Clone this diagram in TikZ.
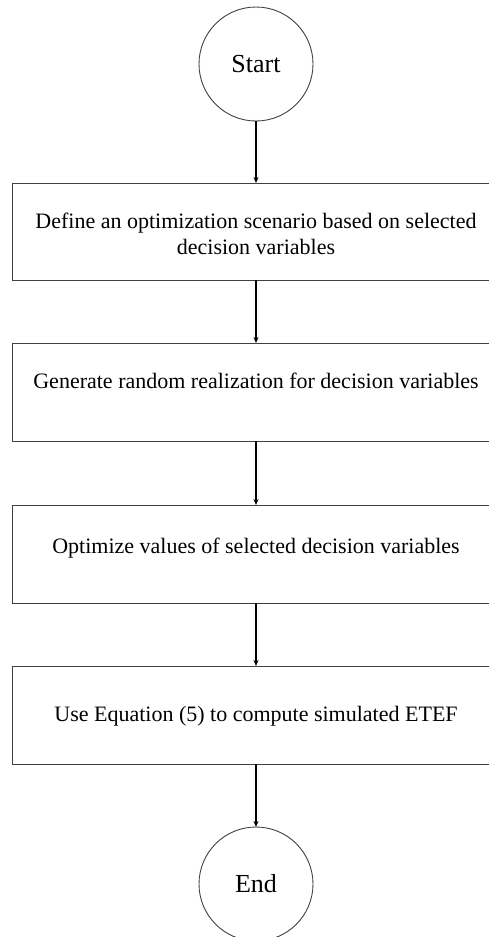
\documentclass[tikz,border=0pt]{standalone}
\usepackage{fontspec}
\setmainfont{Liberation Serif}
\usetikzlibrary{positioning,arrows.meta}

\begin{document}
\begin{tikzpicture}[x=1pt,y=1pt,node distance=63pt,
  every node/.style={draw=black!75, line width=0.9pt, outer sep=0pt},
  terminal/.style={circle, minimum size=114pt, inner sep=0pt, font=\fontsize{26}{30}\selectfont},
  stepbox/.style={rectangle, minimum width=488pt, inner sep=0pt, text height=45pt, text depth=53pt,
    font=\fontsize{22}{26}\selectfont},
  flow/.style={line width=1.1pt, -{Stealth[length=6pt,width=5pt]}}]

  \useasboundingbox (0,0) rectangle (488,-937);

  \node[terminal] (start) at (256,-64) {Start};

  \node[stepbox, align=center, text height=71pt, text depth=26pt, below=62pt of start] (define) {Define an optimization scenario based on selected\\decision variables};
  \node[stepbox, below=of define] (generate) {Generate random realization for decision variables};
  \node[stepbox, text height=48pt, text depth=50pt, below=64pt of generate] (optimize) {Optimize values of selected decision variables};
  \node[stepbox, text height=55pt, text depth=43pt, below=of optimize] (compute) {Use Equation (5) to compute simulated ETEF};

  \node[terminal, below=of compute] (end) {End};

  \draw[flow] (start) -- (define);
  \draw[flow] (define) -- (generate);
  \draw[flow] (generate) -- (optimize);
  \draw[flow] (optimize) -- (compute);
  \draw[flow] (compute) -- (end);
\end{tikzpicture}
\end{document}
